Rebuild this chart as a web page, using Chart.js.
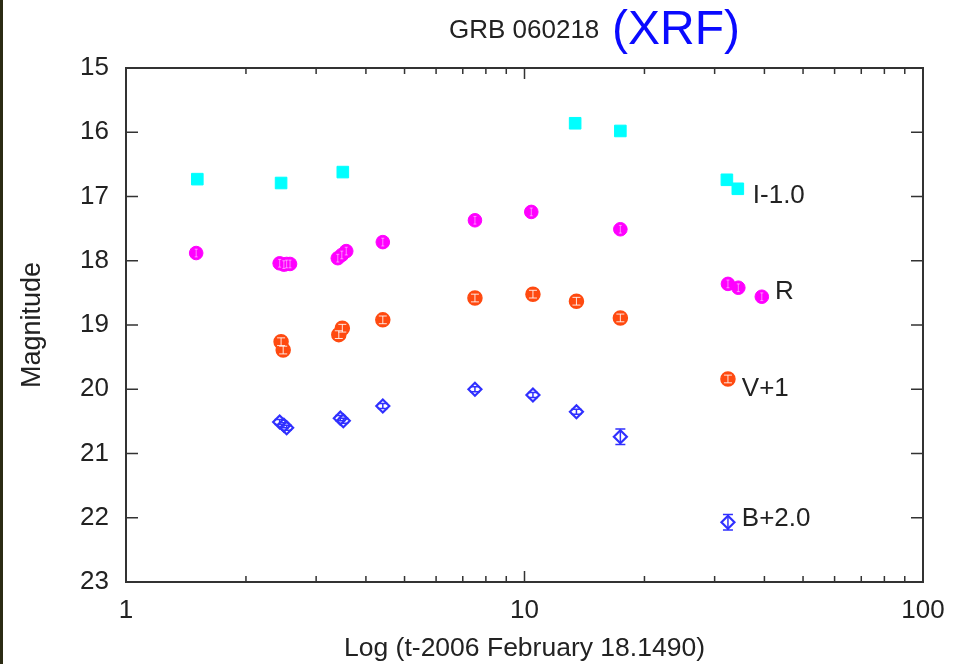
<!DOCTYPE html>
<html>
<head>
<meta charset="utf-8">
<script src="https://cdn.jsdelivr.net/npm/chart.js@4.4.1/dist/chart.umd.min.js"></script>
<style>
  html, body { margin: 0; padding: 0; background: #fff; }
  #wrap { position: relative; width: 953px; height: 664px; }
  #edge { position: absolute; left: 0; top: 0; width: 3px; height: 664px; background: #2b2b14; }
</style>
</head>
<body>
<div id="wrap">
  <canvas id="lc" width="953" height="664"></canvas>
  <div id="edge"></div>
</div>
<script>
// GRB 060218 light curve, days since 2006 Feb 18.149
const iTimes = [1.51, 2.45, 3.50, 13.4, 17.4, 32.2, 34.3];
const iMags  = [16.73, 16.79, 16.62, 15.86, 15.98, 16.74, 16.88];

const rTimes = [1.50, 2.43, 2.49, 2.53, 2.58, 3.40, 3.48, 3.57, 4.41, 7.51, 10.4, 17.4, 32.4, 34.4, 39.4];
const rMags  = [17.88, 18.04, 18.06, 18.05, 18.05, 17.96, 17.91, 17.85, 17.71, 17.37, 17.24, 17.51, 18.36, 18.42, 18.56];

const vTimes = [2.45, 2.48, 3.42, 3.49, 4.41, 7.51, 10.5, 13.5, 17.4, 32.4];
const vMags  = [19.26, 19.39, 19.15, 19.05, 18.92, 18.58, 18.52, 18.63, 18.89, 19.84];

const bTimes = [2.43, 2.49, 2.53, 3.45, 3.51, 4.41, 7.51, 10.5, 13.5, 17.4, 32.4];
const bMags  = [20.51, 20.56, 20.60, 20.45, 20.49, 20.26, 20.00, 20.09, 20.35, 20.74, 22.07];
const bErrs  = [0.04, 0.04, 0.04, 0.04, 0.04, 0.04, 0.04, 0.04, 0.04, 0.12, 0.12];
const smallErr = 0.06;

// band labels next to the last points
const bandLabels = ['I-1.0', 'R', 'V+1', 'B+2.0'];
const bandLabelTimes = [37.4, 42.5, 35.1, 35.1];
const bandLabelMags = [16.99, 18.49, 20.0, 22.02];

const yTicks = [15, 16, 17, 18, 19, 20, 21, 22, 23];
const xTickLabels = [1, 10, 100];

const FONT = '"Liberation Sans", Arial, Helvetica, sans-serif';
const TEXT = '#222';

function toXY(xs, ys) {
  return xs.map((x, i) => ({ x: x, y: ys[i] }));
}

// inward ticks and the box around the plot
const framePlugin = {
  id: 'frame',
  afterDraw(chart) {
    const { ctx, chartArea: a, scales: { x, y } } = chart;
    ctx.save();
    ctx.strokeStyle = '#333';
    ctx.lineWidth = 2;
    ctx.strokeRect(a.left, a.top, a.right - a.left, a.bottom - a.top);
    ctx.lineWidth = 1.5;
    ctx.beginPath();
    yTicks.forEach(v => {
      const py = y.getPixelForValue(v);
      ctx.moveTo(a.left, py); ctx.lineTo(a.left + 12, py);
      ctx.moveTo(a.right, py); ctx.lineTo(a.right - 12, py);
    });
    [1, 10].forEach(d => {
      for (let m = 2; m <= 10; m++) {
        const px = x.getPixelForValue(d * m);
        const len = m === 10 ? 11 : 6;
        ctx.moveTo(px, a.bottom); ctx.lineTo(px, a.bottom - len);
        ctx.moveTo(px, a.top); ctx.lineTo(px, a.top + len);
      }
    });
    ctx.stroke();
    ctx.restore();
  }
};

// error bars, then title and band labels
const extrasPlugin = {
  id: 'extras',
  afterDatasetsDraw(chart) {
    const { ctx, scales: { x, y } } = chart;
    ctx.save();
    chart.data.datasets.forEach(ds => {
      if (!ds.errs) return;
      ctx.strokeStyle = ds.errColor;
      ctx.lineWidth = ds.errWidth;
      ds.data.forEach((p, i) => {
        const px = x.getPixelForValue(p.x);
        const top = y.getPixelForValue(p.y - ds.errs[i]);
        const bot = y.getPixelForValue(p.y + ds.errs[i]);
        const cw = ds.capWidth;
        ctx.beginPath();
        ctx.moveTo(px, top); ctx.lineTo(px, bot);
        ctx.moveTo(px - cw, top); ctx.lineTo(px + cw, top);
        ctx.moveTo(px - cw, bot); ctx.lineTo(px + cw, bot);
        ctx.stroke();
      });
    });

    ctx.fillStyle = TEXT;
    ctx.font = '26px ' + FONT;
    ctx.textBaseline = 'middle';
    ctx.textAlign = 'left';
    bandLabels.forEach((t, i) => {
      ctx.fillText(t, x.getPixelForValue(bandLabelTimes[i]), y.getPixelForValue(bandLabelMags[i]));
    });

    ctx.textBaseline = 'alphabetic';
    ctx.font = '26px ' + FONT;
    ctx.fillText('GRB 060218', 449, 38);
    ctx.fillStyle = '#0a0aff';
    ctx.font = '48px ' + FONT;
    ctx.fillText('(XRF)', 612, 44);
    ctx.restore();
  }
};

const ctx = document.getElementById('lc').getContext('2d');
new Chart(ctx, {
  type: 'scatter',
  data: {
    datasets: [
      {
        label: 'I-1.0',
        data: toXY(iTimes, iMags),
        pointStyle: 'rect',
        pointRadius: 8.2,
        borderWidth: 1,
        backgroundColor: '#00ffff',
        borderColor: '#00ffff'
      },
      {
        label: 'R',
        data: toXY(rTimes, rMags),
        pointStyle: 'circle',
        pointRadius: 6.8,
        borderWidth: 1,
        backgroundColor: '#ff00ff',
        borderColor: '#ff00ff',
        errs: rTimes.map(() => smallErr),
        errColor: 'rgba(255,255,255,0.5)',
        errWidth: 1,
        capWidth: 1.5
      },
      {
        label: 'V+1',
        data: toXY(vTimes, vMags),
        pointStyle: 'circle',
        pointRadius: 7,
        borderWidth: 1.5,
        backgroundColor: '#ff4a10',
        borderColor: '#ff4a10',
        errs: vTimes.map(() => smallErr),
        errColor: 'rgba(255,255,255,0.85)',
        errWidth: 1,
        capWidth: 4
      },
      {
        label: 'B+2.0',
        data: toXY(bTimes, bMags),
        pointStyle: 'rectRot',
        pointRadius: 6.5,
        borderWidth: 2.2,
        backgroundColor: 'rgba(255,255,255,0)',
        borderColor: '#3030ff',
        errs: bErrs,
        errColor: '#3030ff',
        errWidth: 1.5,
        capWidth: 5
      }
    ]
  },
  options: {
    responsive: false,
    animation: false,
    layout: { padding: { top: 68, right: 30, left: 0, bottom: 0 } },
    plugins: {
      legend: { display: false },
      tooltip: { enabled: false }
    },
    scales: {
      x: {
        type: 'logarithmic',
        min: 1,
        max: 100,
        afterFit(scale) {
          scale.height = 82;
          scale.paddingLeft = 0;
          scale.paddingRight = 0;
        },
        grid: { display: false, drawTicks: false },
        border: { display: false },
        ticks: {
          autoSkip: false,
          maxRotation: 0,
          padding: 13,
          color: TEXT,
          font: { family: FONT, size: 26 },
          callback: v => (xTickLabels.includes(v) ? String(v) : '')
        },
        title: {
          display: true,
          text: 'Log (t-2006 February 18.1490)',
          color: TEXT,
          font: { family: FONT, size: 26.5 },
          padding: { top: 0, bottom: -1 }
        }
      },
      y: {
        reverse: true,
        min: 15,
        max: 23,
        afterFit(scale) { scale.width = 126; },
        afterBuildTicks(scale) { scale.ticks = yTicks.map(v => ({ value: v })); },
        grid: { display: false, drawTicks: false },
        border: { display: false },
        ticks: {
          padding: 17,
          color: TEXT,
          font: { family: FONT, size: 26 }
        },
        title: {
          display: true,
          text: 'Magnitude',
          color: TEXT,
          font: { family: FONT, size: 27 },
          padding: { top: 16, bottom: 0 }
        }
      }
    }
  },
  plugins: [framePlugin, extrasPlugin]
});
</script>
</body>
</html>
